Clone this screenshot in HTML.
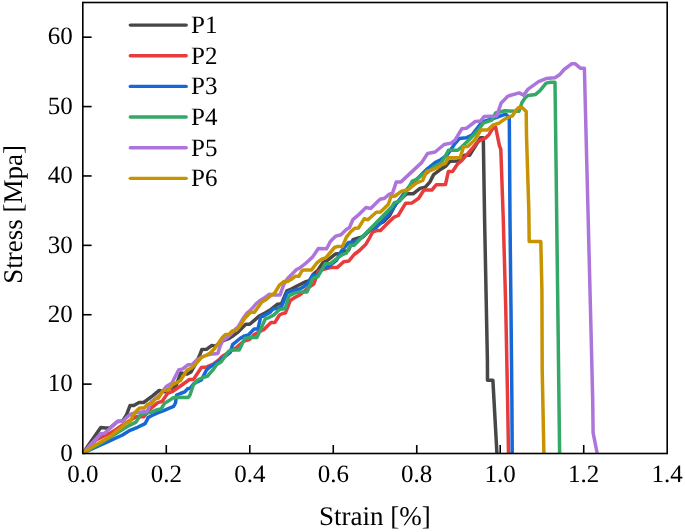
<!DOCTYPE html>
<html><head><meta charset="utf-8"><style>
html,body{margin:0;padding:0;background:#fff;}
svg{display:block;will-change:transform;}
svg{text-rendering:geometricPrecision;}
.t{font-family:"Liberation Serif",serif;font-size:25px;fill:#000;}
.a{font-family:"Liberation Serif",serif;font-size:27px;fill:#000;}
</style></head><body>
<svg width="685" height="532" viewBox="0 0 685 532">
<line x1="166.29" y1="453.5" x2="166.29" y2="445.0" stroke="#000" stroke-width="1.6"/>
<line x1="249.77" y1="453.5" x2="249.77" y2="445.0" stroke="#000" stroke-width="1.6"/>
<line x1="333.26" y1="453.5" x2="333.26" y2="445.0" stroke="#000" stroke-width="1.6"/>
<line x1="416.74" y1="453.5" x2="416.74" y2="445.0" stroke="#000" stroke-width="1.6"/>
<line x1="500.23" y1="453.5" x2="500.23" y2="445.0" stroke="#000" stroke-width="1.6"/>
<line x1="583.71" y1="453.5" x2="583.71" y2="445.0" stroke="#000" stroke-width="1.6"/>
<line x1="82.8" y1="384.12" x2="91.6" y2="384.12" stroke="#000" stroke-width="1.6"/>
<line x1="82.8" y1="314.73" x2="91.6" y2="314.73" stroke="#000" stroke-width="1.6"/>
<line x1="82.8" y1="245.35" x2="91.6" y2="245.35" stroke="#000" stroke-width="1.6"/>
<line x1="82.8" y1="175.96" x2="91.6" y2="175.96" stroke="#000" stroke-width="1.6"/>
<line x1="82.8" y1="106.58" x2="91.6" y2="106.58" stroke="#000" stroke-width="1.6"/>
<line x1="82.8" y1="37.19" x2="91.6" y2="37.19" stroke="#000" stroke-width="1.6"/>
<polyline points="83.0,453.0 100.8,427.6 105.5,428.0 110.0,428.0 117.7,421.2 122.4,421.3 126.3,415.3 130.0,405.5 133.8,405.5 139.1,402.5 143.6,402.5 152.6,395.8 159.2,390.4 164.5,391.7 170.0,388.5 175.5,387.0 180.7,373.1 186.9,374.1 191.0,372.0 195.0,365.0 200.0,354.5 201.8,349.6 206.8,349.2 211.9,345.4 215.3,346.2 223.8,340.3 228.8,338.6 233.9,335.2 237.3,332.7 245.8,324.3 249.7,324.3 258.8,316.4 265.0,313.0 271.0,309.4 277.6,304.2 281.4,303.8 286.8,290.8 291.3,289.1 298.0,285.5 305.9,281.7 309.3,280.6 313.8,273.8 318.0,270.0 322.9,262.6 327.4,260.3 335.3,254.1 340.0,253.5 348.5,250.2 353.0,239.6 357.6,238.1 363.0,236.8 370.0,230.2 376.0,226.5 379.2,223.9 383.2,222.0 389.7,215.4 396.0,203.5 406.8,193.7 413.4,193.7 420.0,188.4 425.3,187.1 430.0,181.8 433.6,174.6 439.6,170.1 445.6,166.3 450.1,161.2 457.7,161.0 464.5,155.3 469.5,155.3 475.0,146.5 480.5,137.8 483.3,137.8 484.6,220.0 487.4,360.0 487.5,380.3 492.9,380.3 496.9,453.0" fill="none" stroke="#474747" stroke-width="3.5" stroke-linejoin="round" stroke-linecap="butt"/>
<polyline points="83.0,453.0 96.1,439.8 110.2,433.0 115.0,430.3 121.5,425.7 136.0,416.8 143.6,416.8 150.0,409.5 152.5,407.1 157.8,402.6 162.0,401.5 167.5,393.5 172.8,391.3 182.6,384.5 189.5,379.5 193.4,379.5 201.3,367.6 206.6,367.0 212.9,364.5 218.2,360.5 222.1,356.6 236.6,347.4 244.0,341.0 249.4,339.5 254.1,334.8 257.0,333.0 264.4,329.1 271.0,322.6 274.8,322.6 279.5,315.0 283.2,313.2 285.5,312.9 290.3,300.4 295.5,297.1 299.2,295.3 310.4,286.2 313.8,284.0 318.3,271.6 320.0,270.3 330.5,267.6 337.1,267.6 343.7,261.7 348.9,261.0 354.2,254.5 359.5,250.5 366.1,243.9 369.5,238.0 372.6,232.1 376.6,230.6 380.5,230.5 388.4,222.6 393.7,217.4 398.2,215.5 405.7,203.2 412.1,202.9 418.7,198.3 423.9,190.0 431.9,190.0 436.4,184.7 445.5,184.5 448.4,171.4 452.6,171.4 457.7,163.8 461.9,160.4 467.8,153.6 472.9,147.7 477.1,142.6 480.5,140.1 485.3,138.2 489.1,134.4 492.8,128.3 495.7,127.4 499.4,145.7 500.8,149.4 503.3,220.0 505.8,310.0 507.6,400.0 508.5,453.0" fill="none" stroke="#e83c3c" stroke-width="3.5" stroke-linejoin="round" stroke-linecap="butt"/>
<polyline points="83.0,453.0 91.4,449.2 110.2,440.7 122.5,435.0 130.0,430.3 137.6,427.3 145.1,423.6 147.3,419.5 148.0,417.6 152.5,415.3 157.0,413.1 163.0,410.8 168.3,408.6 173.6,406.3 175.5,403.0 176.6,395.0 180.3,393.5 184.8,391.8 188.0,388.5 190.0,388.3 194.1,383.4 201.3,380.0 206.5,370.0 210.0,366.9 218.2,361.8 230.0,352.6 232.6,344.7 240.0,338.5 243.8,336.2 248.4,334.9 254.1,329.1 257.9,329.1 260.7,316.9 263.5,316.0 270.1,312.2 273.2,308.9 281.1,307.6 287.0,293.0 290.6,291.3 296.6,289.8 301.1,288.3 304.8,286.0 308.7,282.6 312.7,275.0 317.2,276.1 322.9,268.2 328.5,266.5 336.4,260.3 341.0,251.7 348.5,242.6 354.5,241.9 362.0,237.5 370.0,229.5 376.3,227.3 382.0,221.5 388.5,214.1 390.0,212.2 399.0,200.2 408.0,188.1 427.6,168.6 435.1,162.6 441.1,159.5 447.1,155.0 455.0,143.5 459.5,138.4 466.3,137.8 471.9,135.0 482.0,122.0 488.8,119.8 496.0,117.5 505.7,114.2 509.3,117.5 510.0,220.0 511.0,310.0 511.9,400.0 512.2,453.0" fill="none" stroke="#1767d6" stroke-width="3.5" stroke-linejoin="round" stroke-linecap="butt"/>
<polyline points="83.0,453.0 100.0,443.5 122.5,429.6 130.0,425.1 136.0,422.1 140.6,414.5 145.1,413.4 151.1,412.3 155.0,410.5 158.5,409.3 161.0,409.0 164.5,403.3 168.3,401.1 172.8,398.0 176.6,397.3 188.2,397.6 190.0,395.0 193.1,385.5 197.2,380.3 203.4,377.2 207.5,376.2 210.0,373.1 212.9,370.0 216.8,364.5 221.0,362.0 228.7,351.3 231.3,350.0 239.2,350.0 244.7,338.5 249.4,337.6 256.9,337.6 265.4,318.8 268.2,317.9 273.8,315.0 279.5,309.4 285.1,308.5 289.0,296.0 294.7,293.0 300.3,291.9 307.1,291.9 312.7,278.3 318.0,276.5 325.3,263.7 330.5,263.5 337.1,258.4 342.4,254.5 346.3,253.2 350.3,245.3 354.2,245.3 392.1,206.5 394.4,202.6 399.1,201.5 403.8,196.0 412.3,181.0 417.0,179.1 422.6,174.4 426.3,173.4 434.2,166.6 441.0,163.2 446.0,155.0 448.4,150.2 457.7,150.2 460.0,148.5 467.0,141.8 477.5,131.1 483.2,123.2 492.2,119.8 495.6,113.0 504.6,110.8 519.0,111.2 522.0,102.5 525.0,98.0 528.0,95.5 535.6,94.4 540.0,90.6 546.1,83.1 550.5,82.3 555.0,82.3 556.0,160.0 558.1,330.0 559.6,453.0" fill="none" stroke="#34a866" stroke-width="3.5" stroke-linejoin="round" stroke-linecap="butt"/>
<polyline points="83.0,453.0 100.8,433.7 104.6,433.2 117.7,421.4 122.4,421.5 130.0,414.5 133.0,413.5 141.3,411.9 147.3,411.2 151.1,401.8 160.2,394.7 166.2,386.5 172.0,383.0 178.6,370.0 182.7,368.9 187.9,364.8 192.0,364.8 197.2,359.6 202.0,357.0 207.0,355.0 212.9,353.9 217.8,353.4 220.4,345.4 222.9,340.3 227.1,337.8 231.0,334.0 235.6,329.0 238.0,327.2 243.0,318.5 247.0,313.0 250.0,310.5 253.0,307.5 256.0,303.8 260.0,300.5 264.3,298.0 269.5,294.3 274.0,295.0 280.0,295.1 283.8,284.5 287.6,278.5 296.6,269.5 299.5,268.2 304.7,264.2 312.7,256.9 318.3,248.5 326.6,248.8 330.5,241.3 335.8,236.1 341.0,234.7 346.3,229.5 349.5,227.5 352.8,219.7 359.4,214.1 366.0,207.5 370.7,208.5 378.2,201.0 380.1,199.3 384.6,198.3 388.8,194.5 392.5,193.2 396.3,181.9 401.0,181.9 421.6,162.6 427.6,153.5 435.1,152.0 444.1,144.5 451.0,143.1 455.0,140.1 461.8,128.8 466.3,128.3 475.3,121.5 480.5,121.0 484.3,116.4 496.7,115.9 501.2,102.9 508.0,96.1 510.0,95.5 519.1,92.9 523.6,95.1 528.1,89.1 538.6,81.6 546.1,78.6 555.0,77.8 559.5,74.8 564.1,69.5 571.6,63.8 575.3,63.8 580.6,68.3 584.4,68.3 586.7,160.0 591.0,330.0 592.7,400.0 593.1,432.6 597.1,453.0" fill="none" stroke="#ad75db" stroke-width="3.5" stroke-linejoin="round" stroke-linecap="butt"/>
<polyline points="83.0,453.0 91.4,447.5 110.2,436.5 115.0,432.5 122.5,426.6 125.4,423.0 130.1,422.0 133.9,413.5 139.5,407.9 144.2,407.9 148.0,404.1 151.0,404.1 155.5,398.8 158.5,398.0 163.0,390.5 168.4,390.0 173.2,384.0 175.8,383.0 180.3,380.8 186.8,370.3 192.1,367.6 197.0,362.5 201.8,357.2 206.0,355.5 210.2,353.0 214.5,348.8 218.7,342.8 222.1,337.8 225.5,334.4 228.8,334.4 232.2,331.0 236.5,330.2 240.0,326.0 245.0,317.9 250.6,312.3 254.4,312.3 261.9,301.9 265.0,300.3 269.5,296.6 274.8,292.8 279.3,285.3 283.8,281.5 287.6,281.5 291.3,279.3 295.1,276.3 298.8,276.3 301.8,271.0 303.5,269.9 311.6,269.9 316.6,263.2 321.3,259.4 326.0,257.6 330.7,252.0 334.5,247.5 337.1,246.6 342.4,246.6 346.3,237.4 350.5,232.0 354.7,228.2 358.5,228.0 364.1,218.8 367.9,219.7 376.3,212.2 380.5,212.0 388.4,204.2 391.0,196.5 395.0,196.0 401.6,191.1 408.2,189.7 416.1,183.2 422.6,180.5 426.6,171.5 432.0,170.0 438.1,167.1 442.6,164.1 445.0,163.8 448.4,157.8 460.2,157.8 463.6,146.8 467.8,146.5 474.6,140.1 480.9,130.0 487.7,130.0 493.3,124.9 499.0,123.2 504.6,119.2 510.0,116.5 512.3,116.0 516.8,109.3 519.0,107.4 522.0,107.4 526.2,111.5 526.5,135.0 528.8,210.0 529.2,241.6 540.8,241.6 541.9,290.0 542.2,370.0 543.9,453.0" fill="none" stroke="#c79300" stroke-width="3.5" stroke-linejoin="round" stroke-linecap="butt"/>
<rect x="82.8" y="2.5" width="584.40" height="451.00" fill="none" stroke="#000" stroke-width="1.6"/>
<line x1="130.3" y1="25.10" x2="186.2" y2="25.10" stroke="#474747" stroke-width="3.4" stroke-linecap="round"/>
<text x="191.1" y="32.90" class="t">P1</text>
<line x1="130.3" y1="55.75" x2="186.2" y2="55.75" stroke="#e83c3c" stroke-width="3.4" stroke-linecap="round"/>
<text x="191.1" y="63.55" class="t">P2</text>
<line x1="130.3" y1="86.40" x2="186.2" y2="86.40" stroke="#1767d6" stroke-width="3.4" stroke-linecap="round"/>
<text x="191.1" y="94.20" class="t">P3</text>
<line x1="130.3" y1="117.05" x2="186.2" y2="117.05" stroke="#34a866" stroke-width="3.4" stroke-linecap="round"/>
<text x="191.1" y="124.85" class="t">P4</text>
<line x1="130.3" y1="147.70" x2="186.2" y2="147.70" stroke="#ad75db" stroke-width="3.4" stroke-linecap="round"/>
<text x="191.1" y="155.50" class="t">P5</text>
<line x1="130.3" y1="178.35" x2="186.2" y2="178.35" stroke="#c79300" stroke-width="3.4" stroke-linecap="round"/>
<text x="191.1" y="186.15" class="t">P6</text>
<text x="82.80" y="482.2" class="t" text-anchor="middle">0.0</text>
<text x="166.29" y="482.2" class="t" text-anchor="middle">0.2</text>
<text x="249.77" y="482.2" class="t" text-anchor="middle">0.4</text>
<text x="333.26" y="482.2" class="t" text-anchor="middle">0.6</text>
<text x="416.74" y="482.2" class="t" text-anchor="middle">0.8</text>
<text x="500.23" y="482.2" class="t" text-anchor="middle">1.0</text>
<text x="583.71" y="482.2" class="t" text-anchor="middle">1.2</text>
<text x="667.20" y="482.2" class="t" text-anchor="middle">1.4</text>
<text x="72.8" y="460.80" class="t" text-anchor="end">0</text>
<text x="72.8" y="391.42" class="t" text-anchor="end">10</text>
<text x="72.8" y="322.03" class="t" text-anchor="end">20</text>
<text x="72.8" y="252.65" class="t" text-anchor="end">30</text>
<text x="72.8" y="183.26" class="t" text-anchor="end">40</text>
<text x="72.8" y="113.88" class="t" text-anchor="end">50</text>
<text x="72.8" y="44.49" class="t" text-anchor="end">60</text>
<text x="374.9" y="525" class="a" text-anchor="middle">Strain [%]</text>
<text transform="translate(21.6,214.3) rotate(-90)" class="a" text-anchor="middle">Stress [Mpa]</text>
</svg>
</body></html>
